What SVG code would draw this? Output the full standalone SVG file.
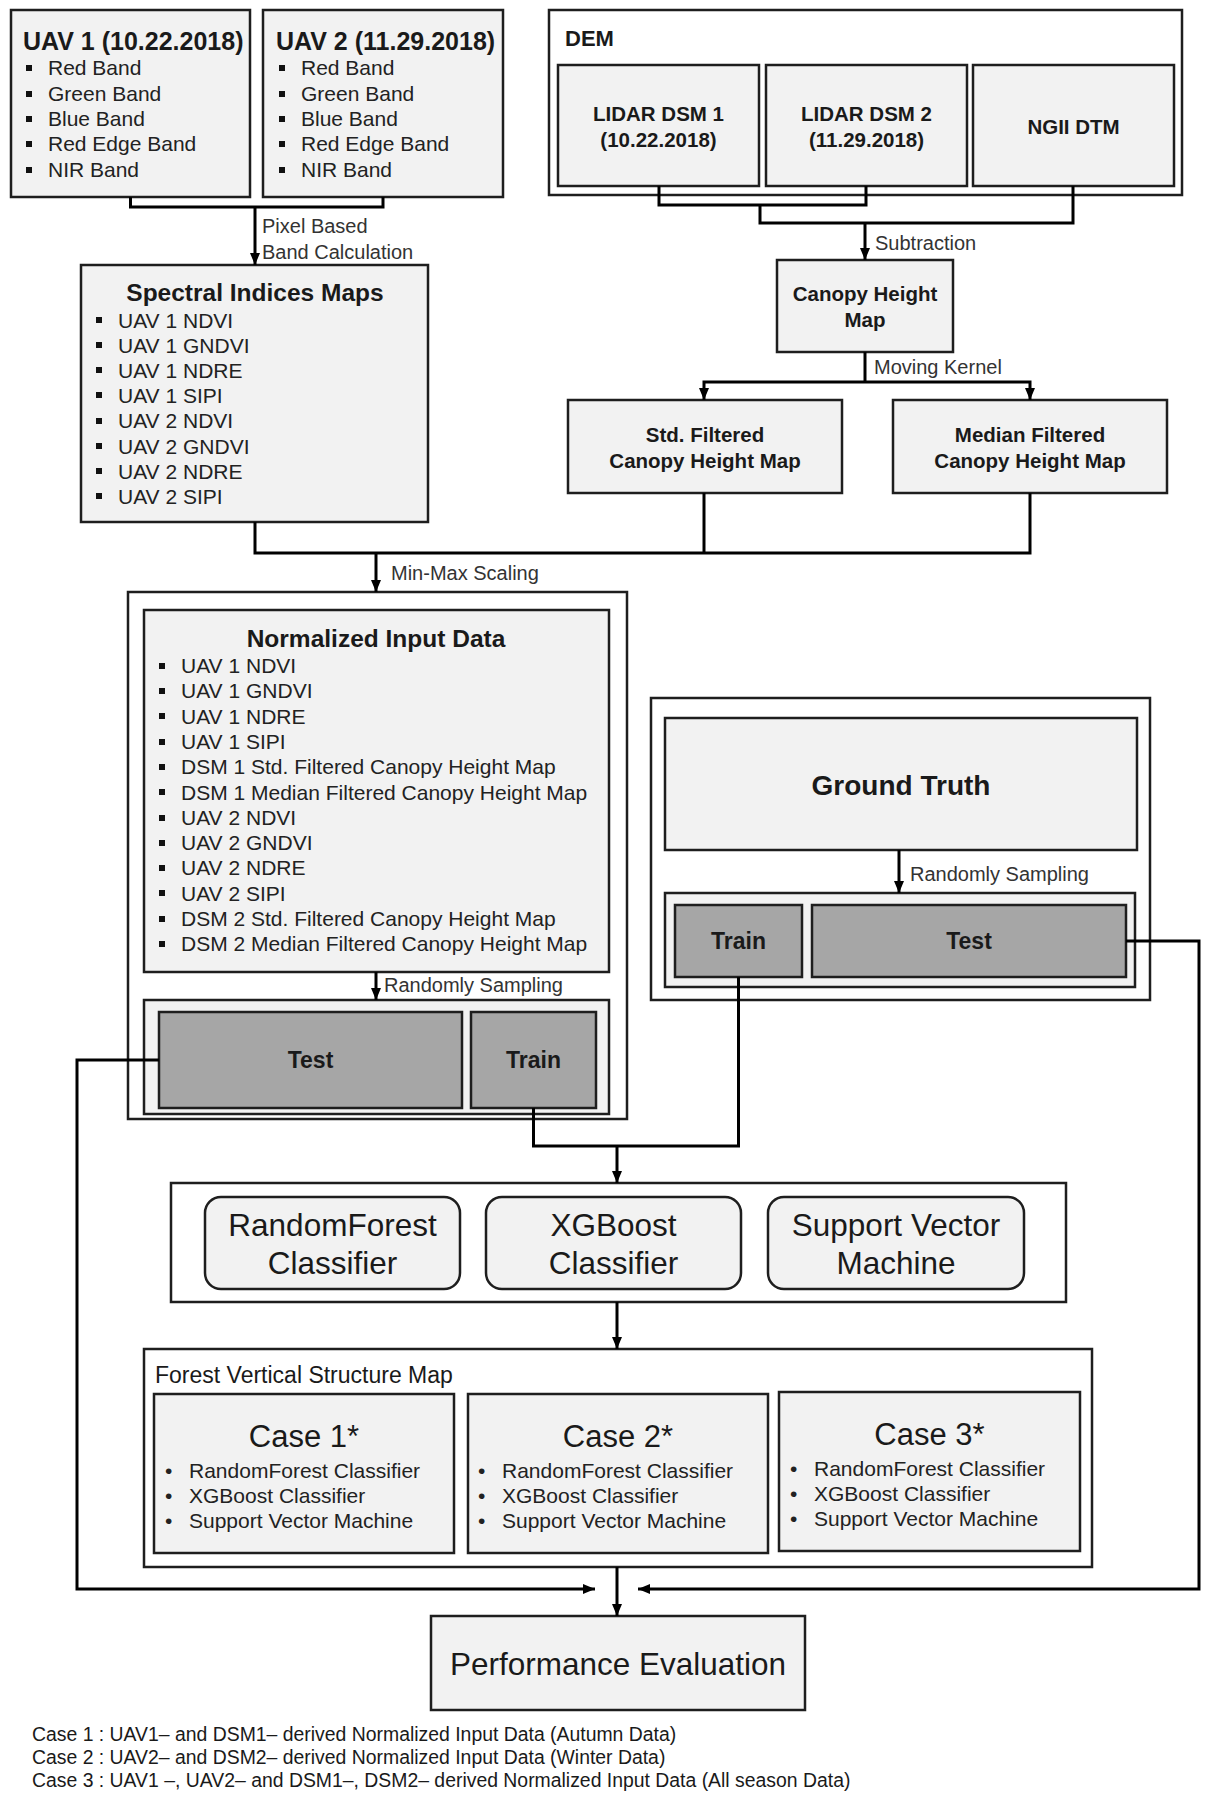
<svg xmlns="http://www.w3.org/2000/svg" width="1211" height="1797" viewBox="0 0 1211 1797">
<defs>
<style>
text{font-family:"Liberation Sans",Arial,sans-serif;fill:#1a1a1a}
.box{fill:#f2f2f2;stroke:#1e1e1e;stroke-width:2.5}
.frame{fill:#fff;stroke:#1e1e1e;stroke-width:2.5}
.dark{fill:#a6a6a6;stroke:#1e1e1e;stroke-width:2.5}
.conn{fill:none;stroke:#000;stroke-width:3}
.b{font-weight:bold}
.li{font-size:21px;fill:#222}
.lab{font-size:20px;fill:#333}
.c{text-anchor:middle}
.sq{fill:#111}
</style>
<marker id="ah" viewBox="0 0 12 10" markerWidth="12" markerHeight="10" refX="12" refY="5" orient="auto" markerUnits="userSpaceOnUse"><path d="M0,0 L12,5 L0,10 z" fill="#000"/></marker>
</defs>

<g id="uav1">
<rect class="box" x="11" y="10" width="239" height="187"/>
<text class="b" x="23" y="50" font-size="25">UAV 1 (10.22.2018)</text>
<rect class="sq" x="26" y="65" width="6" height="6"/><text class="li" x="48" y="75">Red Band</text>
<rect class="sq" x="26" y="91" width="6" height="6"/><text class="li" x="48" y="101">Green Band</text>
<rect class="sq" x="26" y="116" width="6" height="6"/><text class="li" x="48" y="126">Blue Band</text>
<rect class="sq" x="26" y="141" width="6" height="6"/><text class="li" x="48" y="151">Red Edge Band</text>
<rect class="sq" x="26" y="167" width="6" height="6"/><text class="li" x="48" y="177">NIR Band</text>
</g>

<g id="uav2">
<rect class="box" x="263" y="10" width="240" height="187"/>
<text class="b" x="276" y="50" font-size="25">UAV 2 (11.29.2018)</text>
<rect class="sq" x="279" y="65" width="6" height="6"/><text class="li" x="301" y="75">Red Band</text>
<rect class="sq" x="279" y="91" width="6" height="6"/><text class="li" x="301" y="101">Green Band</text>
<rect class="sq" x="279" y="116" width="6" height="6"/><text class="li" x="301" y="126">Blue Band</text>
<rect class="sq" x="279" y="141" width="6" height="6"/><text class="li" x="301" y="151">Red Edge Band</text>
<rect class="sq" x="279" y="167" width="6" height="6"/><text class="li" x="301" y="177">NIR Band</text>
</g>

<g id="spectral">
<rect class="box" x="81" y="265" width="347" height="257"/>
<text class="b c" x="255" y="301" font-size="24.5">Spectral Indices Maps</text>
<rect class="sq" x="96" y="317" width="6" height="6"/><text class="li" x="118" y="327.5">UAV 1 NDVI</text>
<rect class="sq" x="96" y="342" width="6" height="6"/><text class="li" x="118" y="352.7">UAV 1 GNDVI</text>
<rect class="sq" x="96" y="367" width="6" height="6"/><text class="li" x="118" y="377.9">UAV 1 NDRE</text>
<rect class="sq" x="96" y="392" width="6" height="6"/><text class="li" x="118" y="403.1">UAV 1 SIPI</text>
<rect class="sq" x="96" y="418" width="6" height="6"/><text class="li" x="118" y="428.3">UAV 2 NDVI</text>
<rect class="sq" x="96" y="443" width="6" height="6"/><text class="li" x="118" y="453.5">UAV 2 GNDVI</text>
<rect class="sq" x="96" y="468" width="6" height="6"/><text class="li" x="118" y="478.7">UAV 2 NDRE</text>
<rect class="sq" x="96" y="493" width="6" height="6"/><text class="li" x="118" y="503.9">UAV 2 SIPI</text>
</g>

<g id="dem">
<rect class="frame" x="549" y="10" width="633" height="185"/>
<text class="b" x="565" y="46" font-size="22">DEM</text>
</g>
<g id="dsm1">
<rect class="box" x="558" y="65" width="201" height="121"/>
<text class="b c" x="658.5" y="121" font-size="20.5">LIDAR DSM 1</text>
<text class="b c" x="658.5" y="147" font-size="20.5">(10.22.2018)</text>
</g>
<g id="dsm2">
<rect class="box" x="766" y="65" width="201" height="121"/>
<text class="b c" x="866.5" y="121" font-size="20.5">LIDAR DSM 2</text>
<text class="b c" x="866.5" y="147" font-size="20.5">(11.29.2018)</text>
</g>
<g id="ngii">
<rect class="box" x="973" y="65" width="201" height="121"/>
<text class="b c" x="1073.5" y="134" font-size="20.5">NGII DTM</text>
</g>

<g id="chm">
<rect class="box" x="777" y="260" width="176" height="92"/>
<text class="b c" x="865" y="301" font-size="20.5">Canopy Height</text>
<text class="b c" x="865" y="327" font-size="20.5">Map</text>
</g>
<g id="std">
<rect class="box" x="568" y="400" width="274" height="93"/>
<text class="b c" x="705" y="442" font-size="20.5">Std. Filtered</text>
<text class="b c" x="705" y="468" font-size="20.5">Canopy Height Map</text>
</g>
<g id="median">
<rect class="box" x="893" y="400" width="274" height="93"/>
<text class="b c" x="1030" y="442" font-size="20.5">Median Filtered</text>
<text class="b c" x="1030" y="468" font-size="20.5">Canopy Height Map</text>
</g>

<g id="normalized">
<rect class="frame" x="128" y="592" width="499" height="527"/>
<rect class="box" x="144" y="610" width="465" height="362"/>
<text class="b c" x="376" y="647" font-size="24.5">Normalized Input Data</text>
<rect class="sq" x="159" y="663" width="6" height="6"/><text class="li" x="181" y="673">UAV 1 NDVI</text>
<rect class="sq" x="159" y="688" width="6" height="6"/><text class="li" x="181" y="698.3">UAV 1 GNDVI</text>
<rect class="sq" x="159" y="713" width="6" height="6"/><text class="li" x="181" y="723.6">UAV 1 NDRE</text>
<rect class="sq" x="159" y="739" width="6" height="6"/><text class="li" x="181" y="748.9">UAV 1 SIPI</text>
<rect class="sq" x="159" y="764" width="6" height="6"/><text class="li" x="181" y="774.2">DSM 1 Std. Filtered Canopy Height Map</text>
<rect class="sq" x="159" y="789" width="6" height="6"/><text class="li" x="181" y="799.5">DSM 1 Median Filtered Canopy Height Map</text>
<rect class="sq" x="159" y="815" width="6" height="6"/><text class="li" x="181" y="824.8">UAV 2 NDVI</text>
<rect class="sq" x="159" y="840" width="6" height="6"/><text class="li" x="181" y="850.1">UAV 2 GNDVI</text>
<rect class="sq" x="159" y="865" width="6" height="6"/><text class="li" x="181" y="875.4">UAV 2 NDRE</text>
<rect class="sq" x="159" y="890" width="6" height="6"/><text class="li" x="181" y="900.7">UAV 2 SIPI</text>
<rect class="sq" x="159" y="916" width="6" height="6"/><text class="li" x="181" y="926">DSM 2 Std. Filtered Canopy Height Map</text>
<rect class="sq" x="159" y="941" width="6" height="6"/><text class="li" x="181" y="951.3">DSM 2 Median Filtered Canopy Height Map</text>
<rect class="box" x="144" y="1000" width="465" height="114"/>
</g>
<g id="ntest">
<rect class="dark" x="159" y="1012" width="303" height="96"/>
<text class="b c" x="310.5" y="1068" font-size="23">Test</text>
</g>
<g id="ntrain">
<rect class="dark" x="471" y="1012" width="125" height="96"/>
<text class="b c" x="533.5" y="1068" font-size="23">Train</text>
</g>

<g id="groundtruth">
<rect class="frame" x="651" y="698" width="499" height="302"/>
<rect class="box" x="665" y="718" width="472" height="132"/>
<text class="b c" x="901" y="795" font-size="28">Ground Truth</text>
<rect class="box" x="665" y="893" width="470" height="94"/>
</g>
<g id="gtrain">
<rect class="dark" x="675" y="905" width="127" height="72"/>
<text class="b c" x="738.5" y="949" font-size="23">Train</text>
</g>
<g id="gtest">
<rect class="dark" x="812" y="905" width="314" height="72"/>
<text class="b c" x="969" y="949" font-size="23">Test</text>
</g>

<g id="classifiers">
<rect class="frame" x="171" y="1183" width="895" height="119"/>
</g>
<g id="rf">
<rect class="box" x="205" y="1197" width="255" height="92" rx="16"/>
<text class="c" x="332.5" y="1236" font-size="31.5">RandomForest</text>
<text class="c" x="332.5" y="1274" font-size="31.5">Classifier</text>
</g>
<g id="xgb">
<rect class="box" x="486" y="1197" width="255" height="92" rx="16"/>
<text class="c" x="613.5" y="1236" font-size="31.5">XGBoost</text>
<text class="c" x="613.5" y="1274" font-size="31.5">Classifier</text>
</g>
<g id="svm">
<rect class="box" x="768" y="1197" width="256" height="92" rx="16"/>
<text class="c" x="896" y="1236" font-size="31.5">Support Vector</text>
<text class="c" x="896" y="1274" font-size="31.5">Machine</text>
</g>

<g id="fvsm">
<rect class="frame" x="144" y="1349" width="948" height="218"/>
<text x="155" y="1383" font-size="23" fill="#222">Forest Vertical Structure Map</text>
</g>
<g id="case1">
<rect class="box" x="154" y="1394" width="300" height="159"/>
<text class="c" x="304" y="1447" font-size="31">Case 1*</text>
<text class="li" x="165" y="1478">•</text><text class="li" x="189" y="1478">RandomForest Classifier</text>
<text class="li" x="165" y="1503">•</text><text class="li" x="189" y="1503">XGBoost Classifier</text>
<text class="li" x="165" y="1528">•</text><text class="li" x="189" y="1528">Support Vector Machine</text>
</g>
<g id="case2">
<rect class="box" x="468" y="1394" width="300" height="159"/>
<text class="c" x="618" y="1447" font-size="31">Case 2*</text>
<text class="li" x="478" y="1478">•</text><text class="li" x="502" y="1478">RandomForest Classifier</text>
<text class="li" x="478" y="1503">•</text><text class="li" x="502" y="1503">XGBoost Classifier</text>
<text class="li" x="478" y="1528">•</text><text class="li" x="502" y="1528">Support Vector Machine</text>
</g>
<g id="case3">
<rect class="box" x="779" y="1392" width="301" height="159"/>
<text class="c" x="929.5" y="1445" font-size="31">Case 3*</text>
<text class="li" x="790" y="1476">•</text><text class="li" x="814" y="1476">RandomForest Classifier</text>
<text class="li" x="790" y="1501">•</text><text class="li" x="814" y="1501">XGBoost Classifier</text>
<text class="li" x="790" y="1526">•</text><text class="li" x="814" y="1526">Support Vector Machine</text>
</g>

<g id="performance">
<rect class="box" x="431" y="1616" width="374" height="94"/>
<text class="c" x="618" y="1675" font-size="31.5">Performance Evaluation</text>
</g>

<g id="connectors">
<path class="conn" d="M130.5,197 V207 H383 V197"/>
<path class="conn" d="M255,207 V265" marker-end="url(#ah)"/>
<path class="conn" d="M659,186 V205 H866 V186"/>
<path class="conn" d="M760,205 V223 H1073 V186"/>
<path class="conn" d="M865,223 V260" marker-end="url(#ah)"/>
<path class="conn" d="M865,352 V382"/>
<path class="conn" d="M865,382 H704 V400" marker-end="url(#ah)"/>
<path class="conn" d="M865,382 H1030 V400" marker-end="url(#ah)"/>
<path class="conn" d="M255,522 V553 H1030 V493"/>
<path class="conn" d="M704,493 V553"/>
<path class="conn" d="M376,553 V592" marker-end="url(#ah)"/>
<path class="conn" d="M376,972 V1000" marker-end="url(#ah)"/>
<path class="conn" d="M899,850 V893" marker-end="url(#ah)"/>
<path class="conn" d="M159,1060 H77 V1589 H595" marker-end="url(#ah)"/>
<path class="conn" d="M1126,941 H1199 V1589 H638" marker-end="url(#ah)"/>
<path class="conn" d="M533.5,1108 V1146 H738.5 V977"/>
<path class="conn" d="M617,1146 V1183" marker-end="url(#ah)"/>
<path class="conn" d="M617,1302 V1349" marker-end="url(#ah)"/>
<path class="conn" d="M617,1567 V1616" marker-end="url(#ah)"/>
<text class="lab" x="262" y="233">Pixel Based</text>
<text class="lab" x="262" y="259">Band Calculation</text>
<text class="lab" x="875" y="250">Subtraction</text>
<text class="lab" x="874" y="374">Moving Kernel</text>
<text class="lab" x="391" y="580">Min-Max Scaling</text>
<text class="lab" x="384" y="992">Randomly Sampling</text>
<text class="lab" x="910" y="881">Randomly Sampling</text>
</g>

<g id="footnotes" font-size="19.4">
<text x="32" y="1741" fill="#333">Case 1 : UAV1– and DSM1– derived Normalized Input Data (Autumn Data)</text>
<text x="32" y="1764" fill="#333">Case 2 : UAV2– and DSM2– derived Normalized Input Data (Winter Data)</text>
<text x="32" y="1787" fill="#333">Case 3 : UAV1 –, UAV2– and DSM1–, DSM2– derived Normalized Input Data (All season Data)</text>
</g>
</svg>
